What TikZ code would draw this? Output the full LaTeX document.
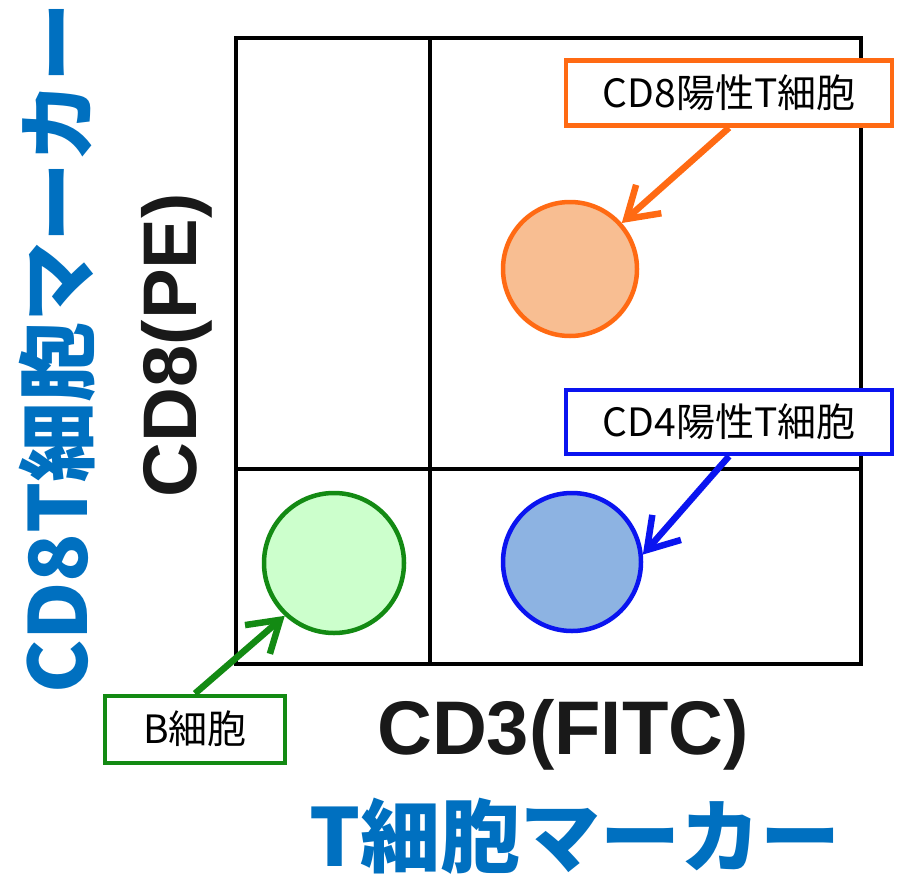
\documentclass[tikz,border=0pt]{standalone}
\usepackage{fontspec}
\setmainfont{Liberation Sans}
\newfontfamily\jp{Noto Sans CJK JP}
\usetikzlibrary{arrows.meta}
\definecolor{oline}{HTML}{FF6A13}
\definecolor{ofill}{HTML}{F8BE92}
\definecolor{bline}{HTML}{0A14F0}
\definecolor{bfill}{HTML}{8DB3E2}
\definecolor{gline}{HTML}{138A13}
\definecolor{gfill}{HTML}{CCFFCC}
\definecolor{tblue}{HTML}{0070C0}
\tikzset{
  frameline/.style={line width=4.5pt, black},
  cell/.style={circle, inner sep=0pt, line width=4.5pt},
  labelbox/.style={rectangle, fill=white, line width=4.5pt, inner sep=0pt,
    font=\jp\fontsize{39}{41}\selectfont, text=black},
  pointer/.style={line width=6.5pt, -{Straight Barb[length=30pt,width=38pt,line width=6.5pt]}},
  axistext/.style={font=\bfseries\fontsize{76}{80}\selectfont, text=black!90},
  markertext/.style={font=\jp\bfseries\fontsize{80}{84}\selectfont, text=tblue, inner sep=0pt},
}
\begin{document}
\begin{tikzpicture}[x=1pt,y=-1pt]
\useasboundingbox (0,0) rectangle (899,878);
\fill[white] (0,0) rectangle (899,878);
% frame
\draw[frameline] (236,38) rectangle (861,664);
\draw[frameline] (430,38) -- (430,664);
\draw[frameline] (236,469) -- (861,469);
% circles
\node[cell, draw=oline, fill=ofill, minimum size=134pt] (ocirc) at (570,269) {};
\node[cell, draw=bline, fill=bfill, minimum size=138pt] (bcirc) at (572,562) {};
\node[cell, draw=gline, fill=gfill, minimum size=140pt] (gcirc) at (334,563) {};
% label boxes
\node[labelbox, draw=oline, minimum width=326pt, minimum height=65pt] (obox) at (729,93) {CD8陽性T細胞};
\node[labelbox, draw=bline, minimum width=326pt, minimum height=64pt] (bbox) at (729,422) {CD4陽性T細胞};
\node[labelbox, draw=gline, line width=4pt, minimum width=180pt, minimum height=67pt] (gbox) at (195,729) {B細胞};
% arrows
\draw[pointer, oline] (obox.south) -- (ocirc);
\draw[pointer, bline] (bbox.south) -- (bcirc.6);
\draw[pointer, gline] (gbox.north) -- (gcirc.227);
% axis titles
\node[axistext] (xaxis) at (563,735) {CD3(FITC)};
\node[axistext, rotate=90] (yaxis) at (177,345) {CD8(PE)};
\node[markertext] (xmarker) at (575,836) {T細胞マーカー};
\node[markertext, rotate=90] (ymarker) at (57,348) {CD8T細胞マーカー};
\end{tikzpicture}
\end{document}
